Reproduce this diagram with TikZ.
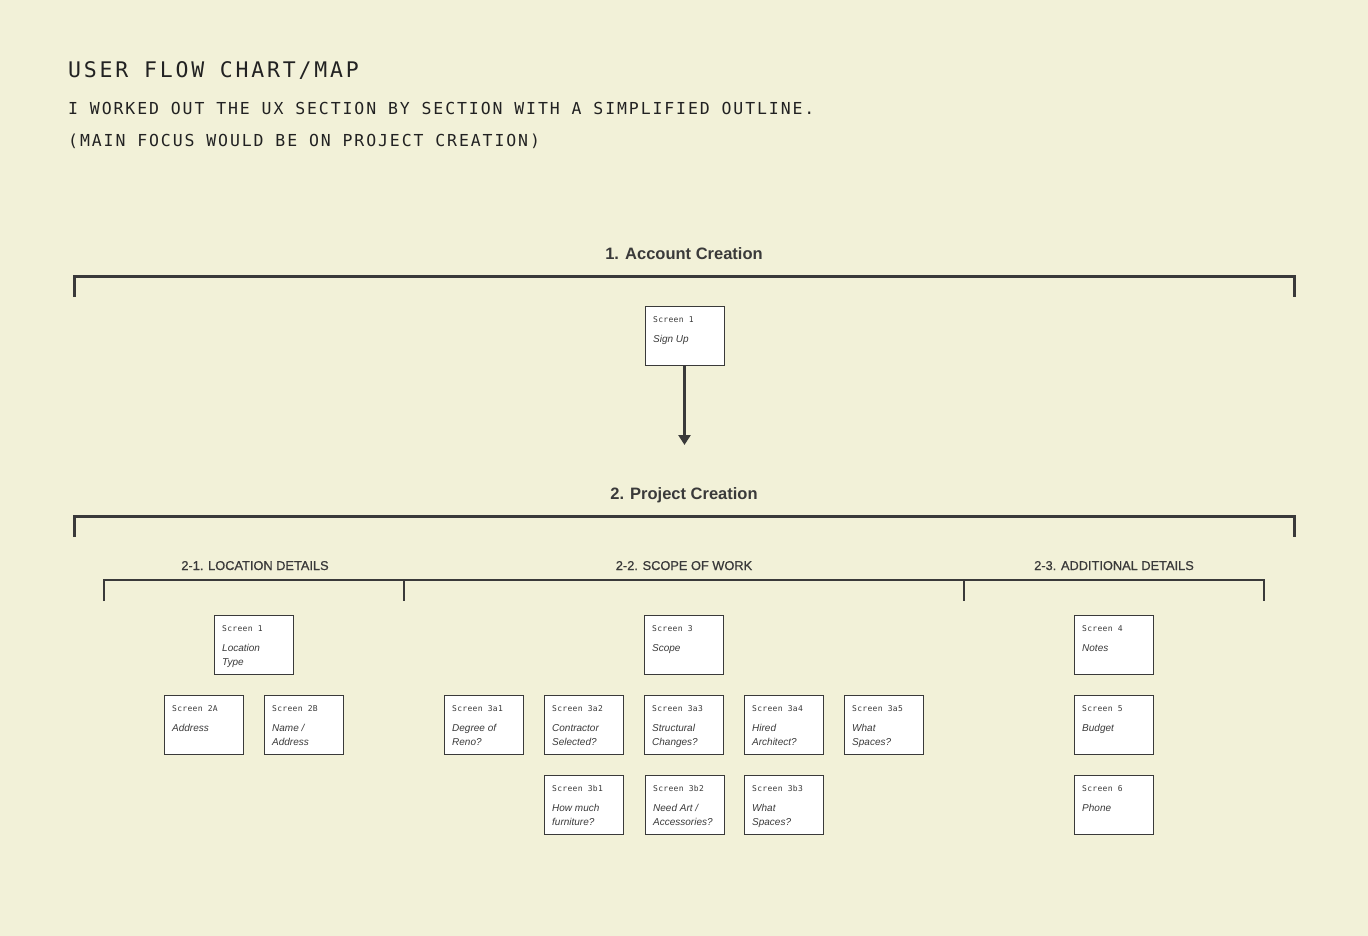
\documentclass[tikz,border=0pt]{standalone}
\usepackage{fontspec}
\usetikzlibrary{arrows.meta}
\setmainfont{Liberation Sans}
\newfontfamily\titlemono[LetterSpace=13]{DejaVu Sans Mono}
\newfontfamily\submono[LetterSpace=11.5]{DejaVu Sans Mono}
\newfontfamily\smallmono[LetterSpace=4]{DejaVu Sans Mono}
\newfontfamily\medsans[FakeBold=0.8]{Liberation Sans}
\definecolor{bgc}{HTML}{F2F1D8}
\definecolor{ink}{HTML}{3A3A3A}
\definecolor{tinc}{HTML}{222222}
\newcommand\scrbox[6]{%
  \node[box, anchor=north west] (#1) at (#2,#3) {};
  \node[lbl, anchor=base west] (#1l) at ([xshift=8pt,yshift=-16pt]#1.north west) {#4};
  \node[desc, anchor=base west] (#1d) at ([xshift=8pt,yshift=-36pt]#1.north west) {#5};
  \node[desc, anchor=base west] (#1e) at ([xshift=8pt,yshift=-50pt]#1.north west) {#6};
}
\begin{document}
\begin{tikzpicture}[x=1pt,y=-1pt,
  box/.style={draw=ink, fill=white, line width=1pt, minimum width=79pt, minimum height=59pt, inner sep=0pt, outer sep=0pt},
  lbl/.style={inner sep=0pt, text=ink, font=\smallmono\fontsize{8}{10}\selectfont},
  desc/.style={inner sep=0pt, text=ink, font=\fontsize{10}{14}\selectfont\itshape},
  bigbr/.style={draw=ink, line width=3pt},
  subbr/.style={draw=ink, line width=2pt},
  head/.style={inner sep=0pt, text=ink, font=\fontsize{16.5}{20}\selectfont\bfseries},
  subhead/.style={inner sep=0pt, text=ink, font=\medsans\fontsize{12.8}{15}\selectfont},
  ttl/.style={inner sep=0pt, text=tinc, anchor=base west}
]
\fill[bgc] (0,0) rectangle (1368,936);
\useasboundingbox (0,0) rectangle (1368,936);

% title block
\node[ttl, font=\titlemono\fontsize{21.5}{24}\selectfont] (title) at (68,78) {USER FLOW CHART/MAP};
\node[ttl, font=\submono\fontsize{16.5}{20}\selectfont] (sub1) at (68,115) {I WORKED OUT THE UX SECTION BY SECTION WITH A SIMPLIFIED OUTLINE.};
\node[ttl, font=\submono\fontsize{16.5}{20}\selectfont] (sub2) at (68,147) {(MAIN FOCUS WOULD BE ON PROJECT CREATION)};

% section 1
\node[head, anchor=base] (h1) at (684,259) {1. Account Creation};
\draw[bigbr] (74,297) -- (74,276) -- (1294,276) -- (1294,297);
\scrbox{signup}{645}{306}{Screen 1}{Sign Up}{}
\coordinate (arrend) at (684.5,445);
\draw[draw=ink, line width=2.5pt, -{Triangle[width=12pt,length=10pt]}] (signup.south) -- (arrend);

% section 2
\node[head, anchor=base] (h2) at (684,499) {2. Project Creation};
\draw[bigbr] (74,537) -- (74,516) -- (1294,516) -- (1294,537);

\node[subhead, anchor=base] (h21) at (255,570) {2-1. LOCATION DETAILS};
\node[subhead, anchor=base] (h22) at (684,570) {2-2. SCOPE OF WORK};
\node[subhead, anchor=base] (h23) at (1114,570) {2-3. ADDITIONAL DETAILS};
\draw[subbr] (104,601) -- (104,580) -- (1264,580) -- (1264,601);
\draw[subbr] (404,580) -- (404,601);
\draw[subbr] (964,580) -- (964,601);

% row 1
\scrbox{loc}{214}{615}{Screen 1}{Location}{Type}
\scrbox{scope}{644}{615}{Screen 3}{Scope}{}
\scrbox{notes}{1074}{615}{Screen 4}{Notes}{}
% row 2
\scrbox{s2a}{164}{695}{Screen 2A}{Address}{}
\scrbox{s2b}{264}{695}{Screen 2B}{Name /}{Address}
\scrbox{s3a1}{444}{695}{Screen 3a1}{Degree of}{Reno?}
\scrbox{s3a2}{544}{695}{Screen 3a2}{Contractor}{Selected?}
\scrbox{s3a3}{644}{695}{Screen 3a3}{Structural}{Changes?}
\scrbox{s3a4}{744}{695}{Screen 3a4}{Hired}{Architect?}
\scrbox{s3a5}{844}{695}{Screen 3a5}{What}{Spaces?}
\scrbox{budget}{1074}{695}{Screen 5}{Budget}{}
% row 3
\scrbox{s3b1}{544}{775}{Screen 3b1}{How much}{furniture?}
\scrbox{s3b2}{645}{775}{Screen 3b2}{Need Art /}{Accessories?}
\scrbox{s3b3}{744}{775}{Screen 3b3}{What}{Spaces?}
\scrbox{phone}{1074}{775}{Screen 6}{Phone}{}
\end{tikzpicture}
\end{document}
